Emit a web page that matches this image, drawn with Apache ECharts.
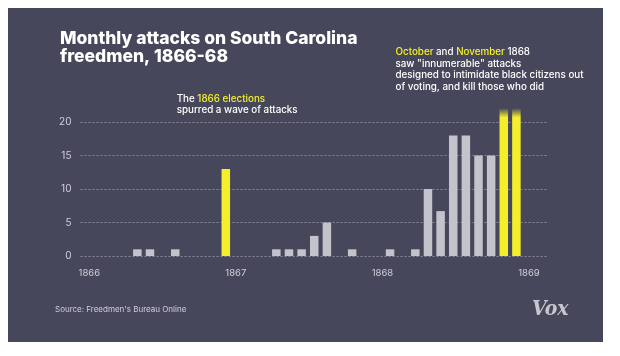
<!DOCTYPE html>
<html>
<head>
<meta charset="utf-8">
<script src="https://cdn.jsdelivr.net/npm/echarts@6/dist/echarts.min.js"></script>
<style>
html,body{margin:0;padding:0;background:#ffffff;}
#chart{width:620px;height:356px;}
</style>
</head>
<body>
<div id="chart"></div>
<script>
// ---- data ----
const years = [1866, 1867, 1868, 1869];
const monthNames = ['Jan','Feb','Mar','Apr','May','Jun','Jul','Aug','Sep','Oct','Nov','Dec'];
const attacks1866 = [0, 0, 0, 0, 1, 1, 0, 1, 0, 0, 0, 13];
const attacks1867 = [0, 0, 0, 1, 1, 1, 3, 5, 0, 1, 0, 0];
const attacks1868 = [1, 0, 1, 10, 6.7, 18, 18, 15, 15, 22, 22, 0];
const attacks1869 = [null]; // axis runs on to Jan 1869, no bar
const highlightMonths = ['Dec 1866', 'Oct 1868', 'Nov 1868'];
const innumerableMonths = ['Oct 1868', 'Nov 1868'];
const yTicks = [0, 5, 10, 15, 20];
const yearTicks = [1866, 1867, 1868, 1869];

// build categories / values
const allValues = [].concat(attacks1866, attacks1867, attacks1868, attacks1869);
const categories = allValues.map((v, i) => monthNames[i % 12] + ' ' + years[Math.floor(i / 12)]);

const YELLOW = '#f4ef2c';
const GREY = '#c3c3cb';
const barData = allValues.map((v, i) => {
  const cat = categories[i];
  let color = GREY;
  if (innumerableMonths.includes(cat)) {
    color = new echarts.graphic.LinearGradient(0, 0, 0, 1, [
      {offset: 0, color: 'rgba(244,239,44,0.05)'},
      {offset: 0.06, color: 'rgba(244,239,44,1)'},
      {offset: 1, color: 'rgba(244,239,44,1)'}
    ]);
  } else if (highlightMonths.includes(cat)) {
    color = YELLOW;
  }
  return {value: v, itemStyle: {color: color}};
});

const chart = echarts.init(document.getElementById('chart'), null, {renderer: 'canvas'});
const FONT = 'Inter';
chart.setOption({
  backgroundColor: '#ffffff',
  animation: false,
  title: {
    text: 'Monthly attacks on South Carolina\nfreedmen, 1866-68',
    left: 55,
    top: 25,
    textStyle: {color: '#ffffff', fontFamily: FONT, fontWeight: 800, fontSize: 17.5, lineHeight: 17.5}
  },
  graphic: [
    {type: 'rect', left: 8, top: 8, z: -10, shape: {width: 595, height: 334}, style: {fill: '#47475b'}},
    {
      type: 'text', left: 395.5, top: 46.5,
      style: {
        text: '{y|October} and {y|November} 1868\nsaw "innumerable" attacks\ndesigned to intimidate black citizens out\nof voting, and kill those who did',
        fill: '#ffffff', fontFamily: FONT, fontSize: 9.8, fontWeight: 500, lineHeight: 11.5,
        rich: {y: {fill: YELLOW, fontFamily: FONT, fontSize: 9.8, fontWeight: 500, lineHeight: 11.5}}
      }
    },
    {
      type: 'text', left: 176.7, top: 93.5,
      style: {
        text: 'The {y|1866 elections}\nspurred a wave of attacks',
        fill: '#ffffff', fontFamily: FONT, fontSize: 9.8, fontWeight: 500, lineHeight: 11,
        rich: {y: {fill: YELLOW, fontFamily: FONT, fontSize: 9.8, fontWeight: 500, lineHeight: 11}}
      }
    },
    {
      type: 'text', left: 55, top: 306,
      style: {text: "Source: Freedmen's Bureau Online", fill: '#cfcfd7', fontFamily: FONT, fontSize: 8}
    },
    {
      type: 'text', left: 532, top: 299,
      style: {text: 'Vox', fill: '#c6c6ce', fontFamily: '"DejaVu Serif Condensed", "DejaVu Serif"', fontStyle: 'italic', fontWeight: 'bold', fontSize: 21}
    }
  ],
  grid: {left: 80.5, width: 467.5, top: 122, height: 134, containLabel: false},
  xAxis: [
    {
      type: 'category', data: categories, position: 'bottom',
      axisLine: {show: false}, axisTick: {show: false}, axisLabel: {show: false}, splitLine: {show: false}
    },
    {
      type: 'value', min: 1865.94, max: 1869.13, position: 'bottom',
      axisLine: {show: false}, axisTick: {show: false}, splitLine: {show: false},
      axisLabel: {
        customValues: yearTicks, margin: 12, color: '#d0d0d8', fontFamily: FONT, fontSize: 9.5,
        formatter: v => String(Math.round(v))
      }
    }
  ],
  yAxis: {
    type: 'value', min: 0, max: 20, interval: 5,
    axisLine: {show: false}, axisTick: {show: false},
    axisLabel: {customValues: yTicks, margin: 9, color: '#d0d0d8', fontFamily: FONT, fontSize: 10},
    splitLine: {show: true, lineStyle: {color: 'rgba(220,220,230,0.45)', type: [2, 2], width: 1}}
  },
  series: [{
    type: 'bar', xAxisIndex: 0, yAxisIndex: 0, data: barData,
    barWidth: 8.5, clip: false
  }]
});
</script>
</body>
</html>
